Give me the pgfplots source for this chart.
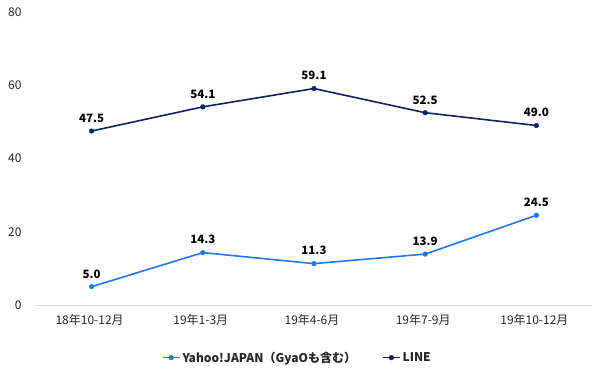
\documentclass[border=0pt]{standalone}
\usepackage{pgfplots}
\pgfplotsset{compat=1.18}
\usepackage{fontspec}
\setmainfont{Noto Sans CJK JP}
\definecolor{yahoo}{HTML}{1F77F0}
\definecolor{lineblue}{HTML}{0E2260}
\definecolor{txt}{HTML}{262626}
\begin{document}
\begin{tikzpicture}
\begin{axis}[
  at={(36pt,72pt)}, anchor=south west,
  scale only axis, width=556pt, height=293pt,
  xmin=-0.5, xmax=4.5, ymin=0, ymax=80,
  xtick={0,1,2,3,4},
  xticklabels={18年10-12月,19年1-3月,19年4-6月,19年7-9月,19年10-12月},
  ytick={0,20,40,60,80},
  axis y line*=left,
  y axis line style={draw=none},
  axis x line*=bottom,
  x axis line style={draw=black!15, line width=0.8pt, -},
  major tick length=0pt,
  tick label style={font=\fontsize{12}{14}\selectfont, text=txt},
  xticklabel style={yshift=-6pt, xshift=-2pt},
  yticklabel style={xshift=-11pt},
  /pgf/number format/assume math mode=true,
  clip=false,
  legend style={at={(0.47,-0.145)}, anchor=north, draw=none, legend columns=2,
    font=\fontsize{12}{14}\selectfont\bfseries, text=txt,
    /tikz/every even column/.append style={column sep=24pt}},
  legend cell align=left,
  nodes near coords,
  every node near coord/.append style={font=\fontsize{11.5}{13}\selectfont\bfseries, text=black, anchor=south, yshift=5pt},
  nodes near coords={\pgfmathprintnumber[fixed,fixed zerofill,precision=1]{\pgfplotspointmeta}},
]
\addplot[color=yahoo, line width=1.6pt, mark=*, mark size=2.4pt, mark options={line width=0.3pt}] coordinates {(0,5.0) (1,14.3) (2,11.3) (3,13.9) (4,24.5)};
\addlegendentry{Yahoo!JAPAN（GyaOも含む）}
\addplot[color=lineblue, line width=1.6pt, mark=*, mark size=2.4pt, mark options={line width=0.3pt}] coordinates {(0,47.5) (1,54.1) (2,59.1) (3,52.5) (4,49.0)};
\addlegendentry{LINE}
\end{axis}
\pgfresetboundingbox
\path (0,0) rectangle (605pt,377pt);
\end{tikzpicture}
\end{document}
